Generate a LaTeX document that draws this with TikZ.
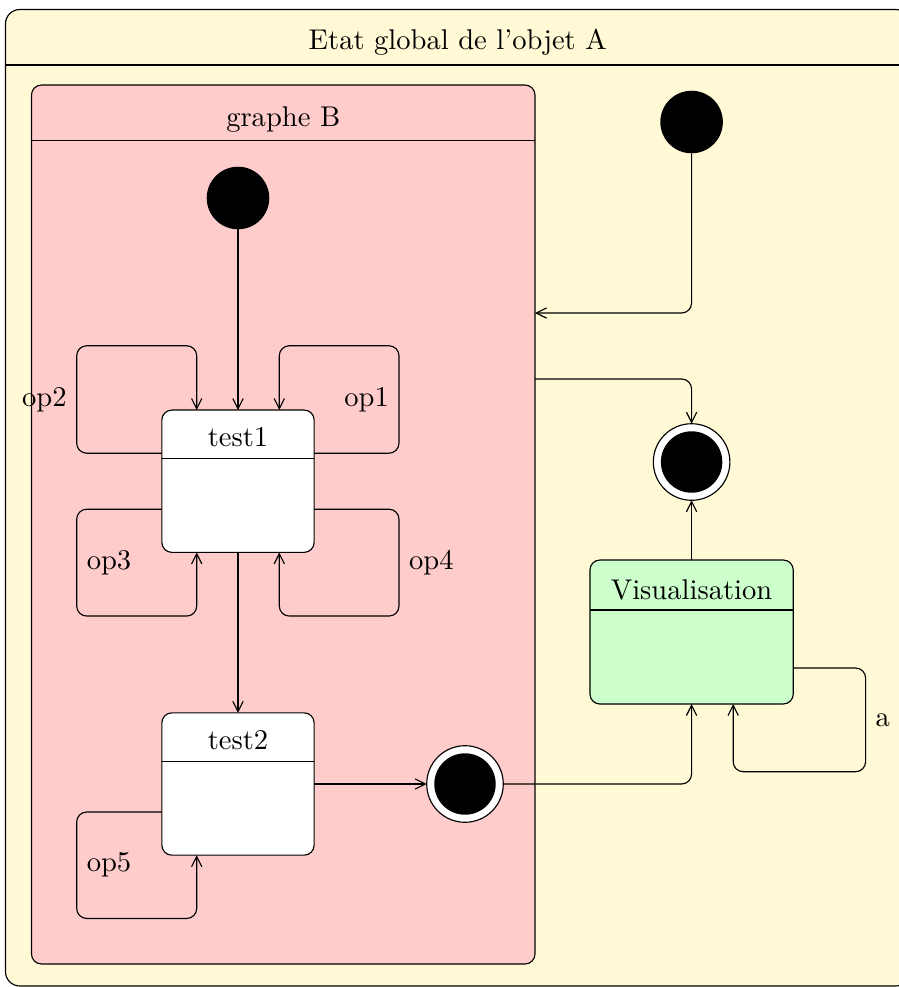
\documentclass[tikz,border=0pt]{standalone}
\usetikzlibrary{arrows.meta,calc}
\definecolor{cA}{RGB}{255,249,213}
\definecolor{cB}{RGB}{255,204,204}
\definecolor{cV}{RGB}{204,255,204}
\begin{document}
\begin{tikzpicture}[x=0.35pt,y=-0.35pt,
  box/.style={draw,rounded corners=3.5pt,inner sep=0pt,outer sep=0pt},
  ttl/.style={anchor=base,inner sep=0pt},
  conn/.style={draw,rounded corners=3.5pt,-{Straight Barb[length=3.6pt,width=3.6pt]}},
  initst/.style={circle,fill=black,inner sep=0pt,outer sep=0pt,minimum size=21.9pt},
  finst/.style={circle,draw,fill=white,inner sep=0pt,outer sep=0pt,minimum size=26.8pt,
    path picture={\fill[black] (path picture bounding box.center) circle (10.75pt);}},
]
\useasboundingbox (0,0) rectangle (899,987);
% outer state
\node[box,rounded corners=5pt,fill=cA,minimum width=904.5*0.35pt,minimum height=976.5*0.35pt] (A) at (457.75,497.75) {};
\draw ($(A.north west)+(0,55.5)$) -- ($(A.north east)+(0,55.5)$);
\node[ttl] (tA) at ($(A.north)+(0,39.5)$) {Etat global de l'objet A};
% graphe B
\node[box,fill=cB,minimum width=503.5*0.35pt,minimum height=879*0.35pt] (B) at (283.25,524.5) {};
\draw ($(B.north west)+(0,55.5)$) -- ($(B.north east)+(0,55.5)$);
\node[ttl] (tB) at ($(B.north)+(0,41)$) {graphe B};
% test1
\node[box,fill=white,minimum width=152.3*0.35pt,minimum height=142.3*0.35pt] (t1) at (238,481.2) {};
\draw ($(t1.north west)+(0,48.7)$) -- ($(t1.north east)+(0,48.7)$);
\node[ttl] (tt1) at ($(t1.north)+(0,36.7)$) {test1};
% test2
\node[box,fill=white,minimum width=152.3*0.35pt,minimum height=142.3*0.35pt] (t2) at (238,784) {};
\draw ($(t2.north west)+(0,48.7)$) -- ($(t2.north east)+(0,48.7)$);
\node[ttl] (tt2) at ($(t2.north)+(0,36.7)$) {test2};
% Visualisation
\node[box,fill=cV,minimum width=203.3*0.35pt,minimum height=144*0.35pt] (V) at (691.6,632) {};
\draw ($(V.north west)+(0,50)$) -- ($(V.north east)+(0,50)$);
\node[ttl] (tV) at ($(V.north)+(0,39.3)$) {Visualisation};
% initial and final states
\node[initst] (iA) at (691.6,122) {};
\node[initst] (iB) at (238,198) {};
\node[finst] (fB) at (465,784) {};
\node[finst] (fA) at (691.6,462) {};
\coordinate (yin) at (0,313);
\coordinate (yout) at (0,379);
% connectors
\draw[conn] (iB) -- (t1);
\draw[conn] (t1) -- (t2);
\draw[conn] (t2) -- (fB);
\draw[conn] (fB) -| (V);
\draw[conn] (V) -- (fA);
\draw[conn] (iA) |- (B.east |- yin);
\draw[conn] (B.east |- yout) -| (fA);
% loops
\draw[conn] ($(t1.west)+(0,-28)$) -| ($(t1.north)+(-161.3,-64.3)$) node[pos=0.75,left] {op2} -| ($(t1.north)+(-41.3,0)$);
\draw[conn] ($(t1.east)+(0,-28)$) -| ($(t1.north)+(161,-64.3)$) node[pos=0.75,left] {op1} -| ($(t1.north)+(41.3,0)$);
\draw[conn] ($(t1.west)+(0,28)$) -| ($(t1.south)+(-161.3,63.7)$) node[pos=0.75,right] {op3} -| ($(t1.south)+(-41.3,0)$);
\draw[conn] ($(t1.east)+(0,28)$) -| ($(t1.south)+(161,63.7)$) node[pos=0.75,right] {op4} -| ($(t1.south)+(41.3,0)$);
\draw[conn] ($(t2.west)+(0,28)$) -| ($(t2.south)+(-161.3,63.3)$) node[pos=0.75,right] {op5} -| ($(t2.south)+(-41.3,0)$);
\draw[conn] ($(V.east)+(0,36)$) -| ($(V.south)+(174,67.7)$) node[pos=0.75,right] {a} -| ($(V.south)+(41.6,0)$);
\end{tikzpicture}
\end{document}
